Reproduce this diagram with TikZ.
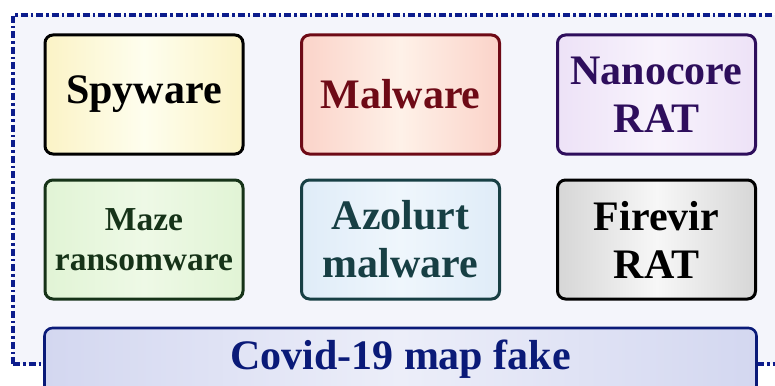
\documentclass[tikz,border=0pt]{standalone}
\usepackage{fontspec}
\setmainfont{Liberation Serif}
\definecolor{framecol}{HTML}{0C1C8C}
\definecolor{framebg}{HTML}{F4F5FB}
\definecolor{malred}{HTML}{6E0A16}
\definecolor{nanopur}{HTML}{2E0E5C}
\definecolor{mazegrn}{HTML}{163318}
\definecolor{azoteal}{HTML}{173F44}
\definecolor{covblue}{HTML}{0A1A78}
\definecolor{spyedge}{HTML}{FBF3C6}
\definecolor{spymid}{HTML}{FEFEEE}
\definecolor{maledge}{HTML}{FBD3C9}
\definecolor{malmid}{HTML}{FEF1E8}
\definecolor{nanoedge}{HTML}{EDE2F7}
\definecolor{nanomid}{HTML}{F8F3FC}
\definecolor{mazeedge}{HTML}{E1F4D5}
\definecolor{mazemid}{HTML}{EEF9E6}
\definecolor{azoedge}{HTML}{DFECF8}
\definecolor{azomid}{HTML}{EFF6FC}
\definecolor{fireedge}{HTML}{D6D6D6}
\definecolor{firemid}{HTML}{F7F7F7}
\definecolor{covedge}{HTML}{D3D7F0}
\definecolor{covmid}{HTML}{ECEEF9}
\begin{document}
\begin{tikzpicture}[x=1pt,y=-1pt]
\tikzstyle{every node}=[draw,rounded corners=8pt,line width=3pt,
minimum width=198pt,minimum height=119pt,inner sep=0pt,align=center,
font=\fontsize{42}{48}\selectfont\bfseries]
\tikzstyle{spybox}=[left color=spyedge,right color=spyedge,middle color=spymid]
\tikzstyle{malbox}=[draw=malred,text=malred,left color=maledge,right color=maledge,middle color=malmid]
\tikzstyle{nanobox}=[draw=nanopur,text=nanopur,left color=nanoedge,right color=nanoedge,middle color=nanomid]
\tikzstyle{mazebox}=[draw=mazegrn,text=mazegrn,left color=mazeedge,right color=mazeedge,middle color=mazemid,
font=\fontsize{33.5}{40}\selectfont\bfseries]
\tikzstyle{azobox}=[draw=azoteal,text=azoteal,left color=azoedge,right color=azoedge,middle color=azomid]
\tikzstyle{firebox}=[left color=fireedge,right color=fireedge,middle color=firemid]
\tikzstyle{covbox}=[draw=covblue,text=covblue,line width=2.6pt,minimum width=712pt,minimum height=90pt,
left color=covedge,right color=covedge,middle color=covmid]
\tikzstyle{frameline}=[draw=framecol,line width=3.2pt,dash pattern=on 7pt off 3pt on 2.5pt off 3pt]

\clip (0,0) rectangle (775,385);
% dash-dot frame round the group
\fill [framebg] (13,15) rectangle (800,364);
\draw [frameline] (13,364) -- (13,15) -- (800,15);
\draw [frameline] (13,364) -- (800,364);

\draw (144,94.5) node (spy) [spybox] {Spyware};
\draw (400.5,94.5) node (mal) [malbox] {Malware};
\draw (656.5,94.5) node (nano) [nanobox] {Nanocore\\RAT};
\draw (144,239.5) node (maze) [mazebox] {Maze\\ransomware};
\draw (400.5,239.5) node (azo) [azobox] {Azolurt\\malware};
\draw (656.5,239.5) node (fire) [firebox] {Firevir\\RAT};
\draw (400.5,373) node (cov) [covbox,text depth=40pt,text height=32pt] {Covid-19 map fake};
\end{tikzpicture}
\end{document}
